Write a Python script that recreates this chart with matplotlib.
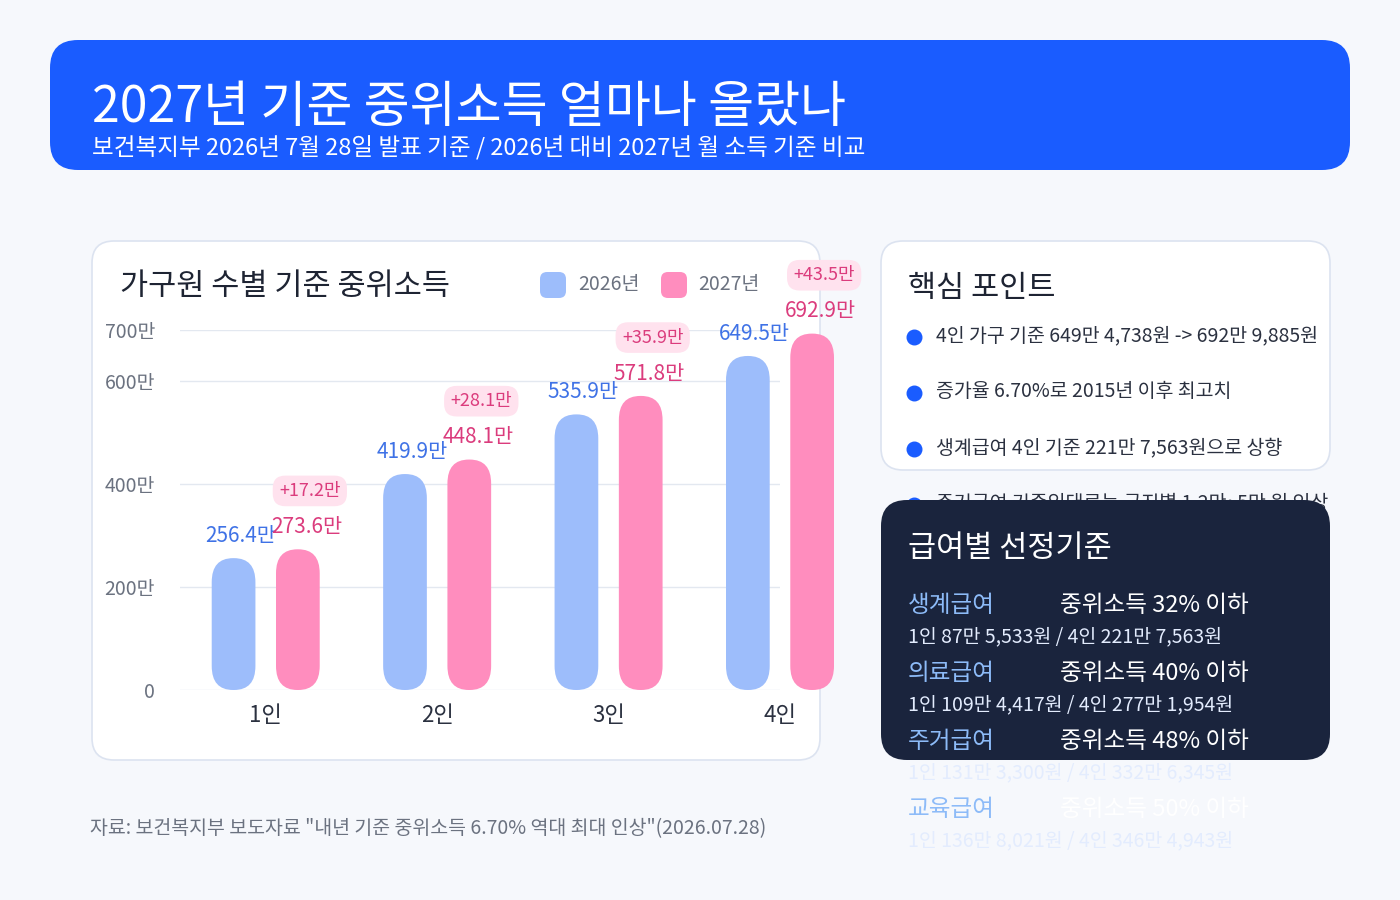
import matplotlib
matplotlib.use("Agg")
import matplotlib.pyplot as plt
from matplotlib.patches import FancyBboxPatch

plt.rcParams['font.family'] = ['Noto Sans CJK KR', 'DejaVu Sans']

categories = ["1인", "2인", "3인", "4인"]
v2026 = [256.4, 419.9, 535.9, 649.5]
v2027 = [273.6, 448.1, 571.8, 692.99]
lab2026 = ["256.4만", "419.9만", "535.9만", "649.5만"]
lab2027 = ["273.6만", "448.1만", "571.8만", "692.9만"]
diffs = ["+17.2만", "+28.1만", "+35.9만", "+43.5만"]
yticks = [0, 200, 400, 600, 700]
ytick_labels = ["0", "200만", "400만", "600만", "700만"]
key_points = ["4인 가구 기준 649만 4,738원 -> 692만 9,885원",
              "증가율 6.70%로 2015년 이후 최고치",
              "생계급여 4인 기준 221만 7,563원으로 상향",
              "주거급여 기준임대료는 급지별 1.2만~5만 원 인상"]
benefits = ["생계급여", "의료급여", "주거급여", "교육급여"]
criteria = ["중위소득 32% 이하", "중위소득 40% 이하", "중위소득 48% 이하", "중위소득 50% 이하"]
details = ["1인 87만 5,533원 / 4인 221만 7,563원",
           "1인 109만 4,417원 / 4인 277만 1,954원",
           "1인 131만 3,300원 / 4인 332만 6,345원",
           "1인 136만 8,021원 / 4인 346만 4,943원"]

BG = "#F6F8FC"
BLUE = "#9DBDFB"; PINK = "#FF8DBE"
BLUE_T = "#3F72E6"; PINK_T = "#DB3C7D"

fig = plt.figure(figsize=(14, 9), dpi=100, facecolor=BG)
bg = fig.add_axes([0, 0, 1, 1], zorder=0)
bg.set_xlim(0, 1400); bg.set_ylim(900, 0); bg.axis("off")

def rbox(ax, x0, y0, x1, y1, r, fc, ec="none", lw=1.2, z=1):
    ax.add_patch(FancyBboxPatch((x0 + r, y0 + r), x1 - x0 - 2 * r, y1 - y0 - 2 * r,
                                boxstyle=f"round,pad={r}", fc=fc, ec=ec, lw=lw, zorder=z))

# header
rbox(bg, 50, 40, 1350, 170, 28, "#1A5CFF")
bg.text(92, 122, "2027년 기준 중위소득 얼마나 올랐나", color="white", fontsize=36, va="baseline")
bg.text(92, 155, "보건복지부 2026년 7월 28일 발표 기준 / 2026년 대비 2027년 월 소득 기준 비교",
        color="white", fontsize=17, va="baseline")
# chart card
rbox(bg, 92, 241, 820, 760, 22, "white", "#DCE3F0")
bg.text(120, 295, "가구원 수별 기준 중위소득", fontsize=22, color="#1E2433", va="baseline")
rbox(bg, 540, 272, 566, 298, 7, BLUE)
bg.text(578, 290, "2026년", fontsize=14, color="#6B7280", va="baseline")
rbox(bg, 661, 272, 687, 298, 7, PINK)
bg.text(698, 290, "2027년", fontsize=14, color="#6B7280", va="baseline")
bg.text(90, 834, '자료: 보건복지부 보도자료 "내년 기준 중위소득 6.70% 역대 최대 인상"(2026.07.28)',
        fontsize=14, color="#6B7280", va="baseline")

# chart axes
ax = fig.add_axes([180 / 1400, 210 / 900, 600 / 1400, 360 / 900], zorder=1)
ax.patch.set_alpha(0)
ax.set_xlim(-0.5, 2.625); ax.set_ylim(0, 700)
for s in ax.spines.values():
    s.set_visible(False)
ax.set_yticks(yticks)
ax.set_yticklabels(ytick_labels)
ax.tick_params(axis="y", length=0, pad=18, labelsize=14, labelcolor="#6B7280")
ax.set_xticks(range(len(categories)))
ax.set_xticklabels(categories)
ax.tick_params(axis="x", length=0, pad=10, labelsize=16, labelcolor="#2B3140")
for lbl in ax.get_xticklabels():
    lbl.set_clip_on(False)
ax.xaxis.get_major_ticks()[3].label1.set_visible(True)
ax.grid(axis="y", color="#E3E8F0", lw=1)
ax.set_axisbelow(True)

off = 0.1875; w = 0.255; r = 0.125; asp = (700 / 360) / (3.125 / 600)
for i in range(len(categories)):
    for x, v, c in ((i - off, v2026[i], BLUE), (i + off, v2027[i], PINK)):
        p = FancyBboxPatch((x - w / 2 + r, r * asp), w - 2 * r, v - 2 * r * asp,
                           boxstyle=f"round,pad={r}", mutation_aspect=asp,
                           fc=c, ec="none", zorder=3, clip_on=False)
        ax.add_patch(p)
    ax.text(i - off + 0.04, v2026[i] + 22, lab2026[i], color=BLUE_T, fontsize=15,
            ha="center", va="bottom", clip_on=False)
    ax.text(i + off + 0.05, v2027[i] + 22, lab2027[i], color=PINK_T, fontsize=15,
            ha="center", va="bottom", clip_on=False)
    ax.text(i + off + 0.07, v2027[i] + 96, diffs[i], color=PINK_T, fontsize=13,
            ha="center", va="bottom", clip_on=False,
            bbox=dict(boxstyle="round,pad=0.35,rounding_size=0.7", fc="#FFE2EE", ec="none"))
# 4인 label (outside axes span)
ax.text(3, -0.0, "", transform=ax.transData)

# foreground panels
fg = fig.add_axes([0, 0, 1, 1], zorder=5)
fg.patch.set_alpha(0)
fg.set_xlim(0, 1400); fg.set_ylim(900, 0); fg.axis("off")
rbox(fg, 881, 241, 1330, 470, 22, "white", "#DCE3F0", z=1)
fg.text(908, 297, "핵심 포인트", fontsize=22, color="#1E2433", va="baseline", zorder=2)
for k, t in enumerate(key_points):
    y = 337 + 56 * k
    fg.scatter([914], [y], s=110, color="#1A5CFF", zorder=2)
    fg.text(936, y + 4, t, fontsize=14, color="#2B3140", va="baseline", zorder=2)
rbox(fg, 881, 500, 1330, 760, 26, "#1A243D", z=3)
fg.text(908, 557, "급여별 선정기준", fontsize=22, color="white", va="baseline", zorder=4)
for k in range(len(benefits)):
    y = 612 + 68 * k
    fg.text(908, y, benefits[k], fontsize=17, color="#8DBBF8", va="baseline", zorder=4)
    fg.text(1060, y, criteria[k], fontsize=17, color="white", va="baseline", zorder=4)
    fg.text(908, y + 30, details[k], fontsize=14, color="#E3ECFE", va="baseline", zorder=4)

fig.savefig("out.png", dpi=100, facecolor=BG)
